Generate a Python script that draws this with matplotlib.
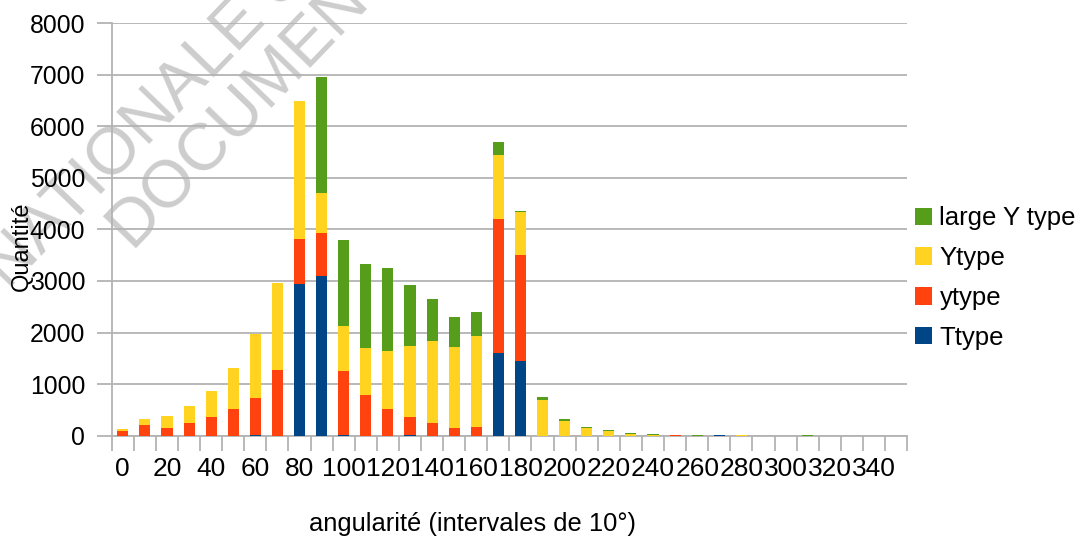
import matplotlib.pyplot as plt
import numpy as np

angles = list(range(0, 360, 10))
tick_labels = [str(a) if a % 20 == 0 else "" for a in angles]

# segment heights per 10 degree bin
t_type = [0, 0, 0, 0, 0, 0, 15, 0, 2950, 3090, 20, 0, 0, 20, 0, 0, 0, 1610, 1440,
          0, 0, 0, 0, 0, 0, 0, 0, 10, 0, 0, 0, 0, 0, 0, 0, 0]
y_small = [90, 200, 160, 240, 355, 510, 725, 1280, 870, 845, 1240, 795, 520, 335, 250, 155, 175, 2595, 2070,
           0, 0, 0, 0, 0, 0, 15, 0, 0, 0, 0, 0, 0, 0, 0, 0, 0]
y_big = [40, 130, 230, 330, 515, 810, 1240, 1680, 2660, 780, 870, 910, 1130, 1390, 1590, 1570, 1765, 1240, 835,
         703, 290, 155, 97, 39, 15, 0, 0, 0, 10, 0, 0, 0, 0, 0, 0, 0]
large_y = [0, 0, 0, 0, 0, 0, 0, 0, 0, 2240, 1670, 1630, 1610, 1180, 815, 580, 465, 250, 20,
           53, 39, 19, 19, 19, 20, 0, 8, 5, 5, 0, 0, 8, 0, 0, 0, 0]

series = [("Ttype", t_type, "#004586"),
          ("ytype", y_small, "#ff420e"),
          ("Ytype", y_big, "#ffd320"),
          ("large Y type", large_y, "#579d1c")]

plt.rcParams['font.family'] = ['Liberation Sans', 'DejaVu Sans']

fig = plt.figure(figsize=(10.85, 5.36), dpi=100)
ax = fig.add_axes([0.103, 0.187, 0.733, 0.770])
ax.patch.set_visible(False)

x = np.arange(len(angles))
bottom = np.zeros(len(angles))
handles = []
for name, vals, col in series:
    vals = np.array(vals, dtype=float)
    b = ax.bar(x, vals, width=0.5, bottom=bottom, color=col, label=name, zorder=3)
    bottom += vals
    handles.append(b)

ax.set_xlim(-0.5, len(angles) - 0.5)
ax.set_ylim(0, 8000)
ax.set_yticks(range(0, 8001, 1000))
ax.yaxis.grid(True, color="#b3b3b3", linewidth=1.3, zorder=0)
ax.set_axisbelow(True)

ax.set_xticks(x)
ax.set_xticklabels(tick_labels)
ax.set_xticks(np.arange(-0.5, len(angles)), minor=True)
ax.tick_params(axis="x", which="major", length=0, pad=15, labelsize=19)
ax.tick_params(axis="x", which="minor", length=11, color="#b3b3b3", width=1.3)
ax.tick_params(axis="y", length=11, color="#b3b3b3", width=1.3, pad=8, labelsize=17.8)

for s in ["top", "right"]:
    ax.spines[s].set_visible(False)
for s in ["left", "bottom"]:
    ax.spines[s].set_color("#b3b3b3")
    ax.spines[s].set_linewidth(1.3)

ax.set_ylabel("Quantité", fontsize=17)
ax.yaxis.set_label_coords(-0.0994, 0.458)
ax.set_xlabel("angularité (intervales de 10°)", fontsize=18.4, va="top")
ax.xaxis.set_label_coords(0.453, -0.184)

ax.legend(handles[::-1], [h.get_label() for h in handles[::-1]],
          loc="center left", bbox_to_anchor=(915 / 1085, 1 - 278 / 536),
          bbox_transform=fig.transFigure, frameon=False,
          fontsize=18.5, handlelength=0.65, handleheight=0.65, handletextpad=0.3,
          labelspacing=0.62, borderaxespad=0, borderpad=0)

# watermark, drawn under the axes
wm = dict(fontsize=48, color="#cdcdcd", rotation=46, rotation_mode="anchor",
          ha="center", va="center", zorder=-1)
fig.text(148 / 1085, 1 - 122 / 536, "NATIONALE S", **wm)
fig.text(253 / 1085, 1 - 98 / 536, "DOCUMENT", **wm)

fig.savefig("out.png", dpi=100)
